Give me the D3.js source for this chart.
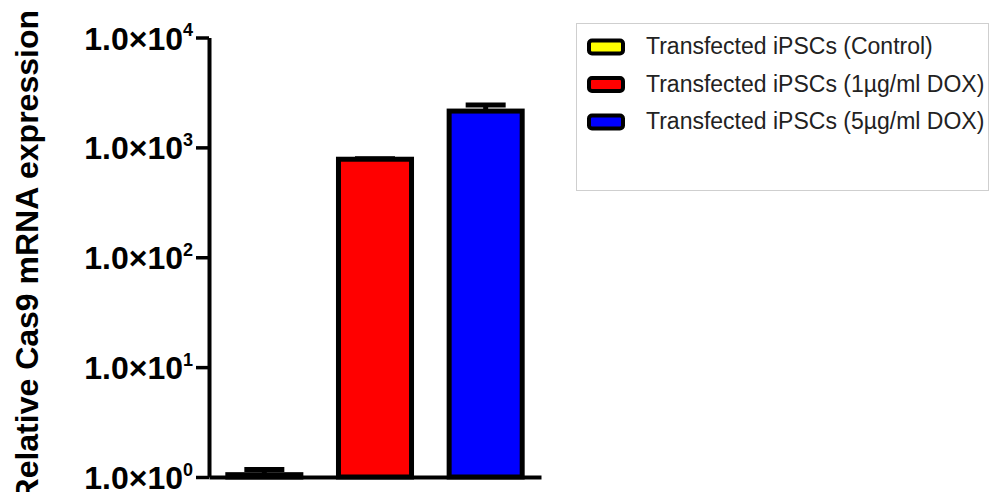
<!DOCTYPE html>
<html>
<head>
<meta charset="utf-8">
<script src="https://cdn.jsdelivr.net/npm/d3@7"></script>
<style>
  html, body { margin: 0; padding: 0; background: #fff; }
  svg { display: block; }
</style>
</head>
<body>
<svg id="chart" width="1002" height="492"></svg>
<script>
// ---- data ----
const groups = ["Transfected iPSCs (Control)", "Transfected iPSCs (1µg/ml DOX)", "Transfected iPSCs (5µg/ml DOX)"];
const means = [1.05, 780, 2140];
const sds = [0.12, 8, 290];
const colors = ["#ffff00", "#ff0000", "#0000ff"];
const tickValues = [1, 10, 100, 1000, 10000];
const tickExponents = ["0", "1", "2", "3", "4"];
const yTitle = "Relative Cas9 mRNA expression";

const svg = d3.select("#chart");
const font = "'Liberation Sans', Arial, Helvetica, sans-serif";

const y = d3.scaleLog().domain([1, 10000]).range([477, 37.5]);
const x = d3.scaleBand().domain(groups).range([209, 541]).paddingInner(0.34).paddingOuter(0.17);

const data = groups.map((g, i) => ({ g, mean: means[i], sd: sds[i], color: colors[i] }));

// error bars (upper only), drawn first so bar outline sits on top
const eb = svg.append("g");
data.forEach(d => {
  const cx = x(d.g) + x.bandwidth() / 2;
  eb.append("line")
    .attr("x1", cx).attr("x2", cx)
    .attr("y1", y(d.mean)).attr("y2", y(d.mean + d.sd))
    .attr("stroke", "#000").attr("stroke-width", 5);
  eb.append("line")
    .attr("x1", cx - 20).attr("x2", cx + 20)
    .attr("y1", y(d.mean + d.sd)).attr("y2", y(d.mean + d.sd))
    .attr("stroke", "#000").attr("stroke-width", 5);
});

svg.append("g").selectAll("rect").data(data).join("rect")
  .attr("x", d => x(d.g))
  .attr("width", x.bandwidth())
  .attr("y", d => y(d.mean))
  .attr("height", d => y(1) - y(d.mean))
  .attr("fill", d => d.color)
  .attr("stroke", "#000")
  .attr("stroke-width", 5);

// y axis
const yAxis = svg.append("g")
  .attr("transform", "translate(209,0)")
  .call(d3.axisLeft(y).tickValues(tickValues).tickSize(13).tickSizeOuter(0).tickPadding(3).tickFormat(() => ""));
yAxis.select(".domain").attr("stroke-width", 4).attr("stroke", "#000");
yAxis.selectAll(".tick line").attr("stroke-width", 3.5).attr("stroke", "#000");
yAxis.selectAll(".tick text").each(function(d) {
  const t = d3.select(this);
  t.text(null)
    .attr("font-family", font).attr("font-weight", "bold").attr("font-size", 32)
    .attr("fill", "#000").attr("dy", "0.36em");
  t.append("tspan").text("1.0×10");
  t.append("tspan").attr("font-size", 18).attr("dy", "-0.75em").text(tickExponents[tickValues.indexOf(d)]);
});

// x axis
const xAxis = svg.append("g")
  .attr("transform", "translate(0,477)")
  .call(d3.axisBottom(x).tickSize(0).tickSizeOuter(0).tickFormat(() => ""));
xAxis.select(".domain").attr("stroke-width", 4).attr("stroke", "#000");

// y title
svg.append("text")
  .attr("transform", "translate(38,10) rotate(-90)")
  .attr("text-anchor", "end")
  .attr("font-family", font).attr("font-weight", "bold").attr("font-size", 32)
  .attr("fill", "#000")
  .text(yTitle);

// legend
const lg = svg.append("g");
lg.append("rect")
  .attr("x", 576.5).attr("y", 23.5).attr("width", 412).attr("height", 167)
  .attr("fill", "#fff").attr("stroke", "#cfcfcf").attr("stroke-width", 1);
data.forEach((d, i) => {
  const cy = 47 + i * 37.5;
  lg.append("rect")
    .attr("x", 589).attr("y", cy - 6.5).attr("width", 34).attr("height", 13)
    .attr("rx", 3).attr("ry", 3)
    .attr("fill", d.color).attr("stroke", "#000").attr("stroke-width", 4);
  lg.append("text")
    .attr("x", 646).attr("y", cy + 7)
    .attr("font-family", font).attr("font-size", 23).attr("fill", "#222")
    .text(d.g);
});
</script>
</body>
</html>
